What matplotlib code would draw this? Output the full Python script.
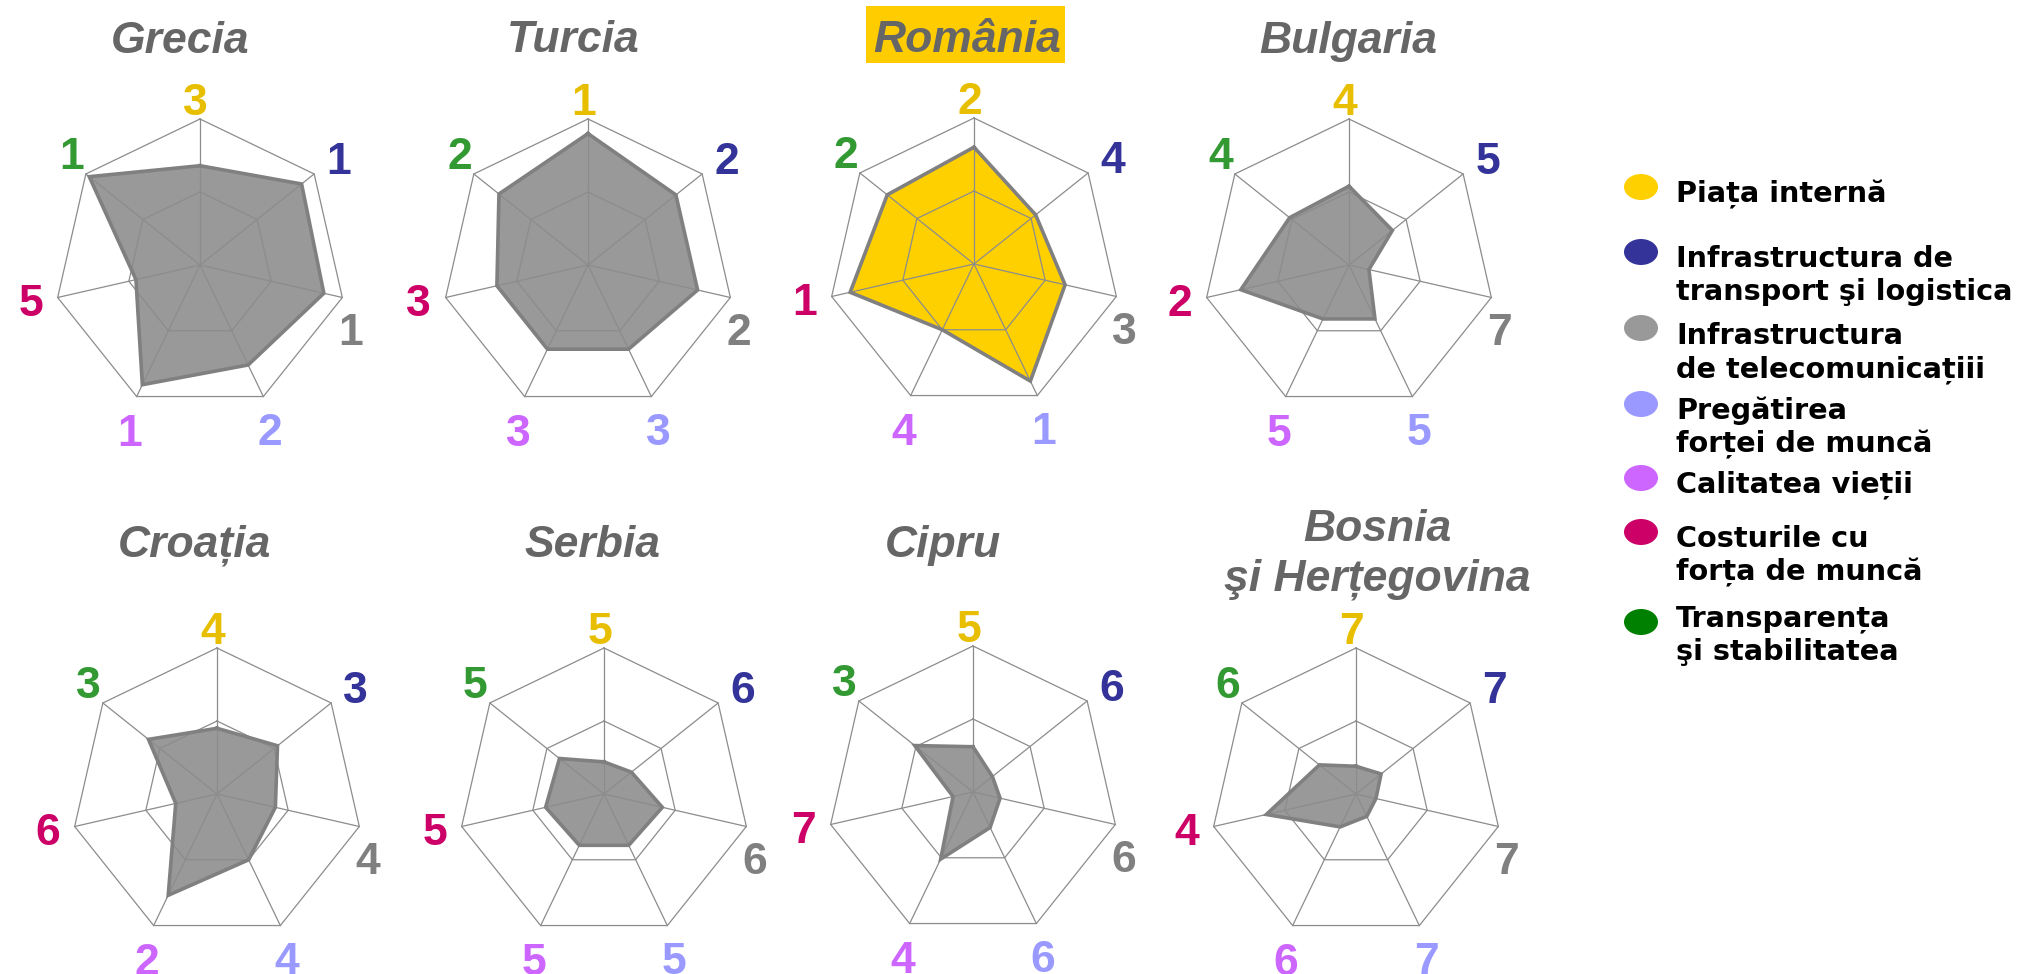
import numpy as np
import matplotlib
matplotlib.use("Agg")
from matplotlib import pyplot as plt
from matplotlib.patches import Rectangle, Ellipse

# categorii (ordinea axelor, in sensul acelor de ceasornic de sus)
categorii = ["Piața internă",
             "Infrastructura de\ntransport şi logistica",
             "Infrastructura\nde telecomunicațiii",
             "Pregătirea\nforței de muncă",
             "Calitatea vieții",
             "Costurile cu\nforța de muncă",
             "Transparența\nşi stabilitatea"]
culori_legenda = ["#FFD000", "#333399", "#999999", "#9999FF", "#CC66FF", "#CC0066", "#008000"]
culori_cifre = ["#E8BE00", "#333399", "#808080", "#9999FF", "#CC66FF", "#CC0066", "#339933"]

tari = ["Grecia", "Turcia", "România", "Bulgaria",
        "Croația", "Serbia", "Cipru", "Bosnia\nşi Herțegovina"]

# locul in clasament pe fiecare axa
locuri_grecia = [3, 1, 1, 2, 1, 5, 1]
locuri_turcia = [1, 2, 2, 3, 3, 3, 2]
locuri_romania = [2, 4, 3, 1, 4, 1, 2]
locuri_bulgaria = [4, 5, 7, 5, 5, 2, 4]
locuri_croatia = [4, 3, 4, 4, 2, 6, 3]
locuri_serbia = [5, 6, 6, 5, 5, 5, 5]
locuri_cipru = [5, 6, 6, 6, 4, 7, 3]
locuri_bosnia = [7, 7, 7, 7, 6, 4, 6]

# scorul relativ (0..1) al fiecarei axe
scor_grecia = [0.68, 0.89, 0.87, 0.76, 0.91, 0.45, 0.97]
scor_turcia = [0.90, 0.77, 0.77, 0.64, 0.64, 0.64, 0.78]
scor_romania = [0.80, 0.54, 0.64, 0.89, 0.50, 0.87, 0.76]
scor_bulgaria = [0.54, 0.38, 0.14, 0.41, 0.41, 0.76, 0.52]
scor_croatia = [0.45, 0.53, 0.41, 0.50, 0.77, 0.29, 0.60]
scor_serbia = [0.22, 0.24, 0.41, 0.39, 0.39, 0.41, 0.39]
scor_cipru = [0.31, 0.17, 0.19, 0.27, 0.51, 0.14, 0.51]
scor_bosnia = [0.19, 0.22, 0.14, 0.17, 0.25, 0.63, 0.32]

locuri = [locuri_grecia, locuri_turcia, locuri_romania, locuri_bulgaria,
          locuri_croatia, locuri_serbia, locuri_cipru, locuri_bosnia]
scoruri = [scor_grecia, scor_turcia, scor_romania, scor_bulgaria,
           scor_croatia, scor_serbia, scor_cipru, scor_bosnia]

# asezare (pixeli)
W, H = 2026, 974
R = 146
centre = [(200, 265), (588, 265), (974, 264), (1349, 265),
          (217, 794), (604, 794), (973, 792), (1356, 794)]
titlu_x = [180, 573, 967, 1348, 195, 592, 943, 1377]
titlu_y = [53, 52, 52, 53, 557, 557, 557, 541]
eticheta_poz = [(-0.03, 1.14), (0.95, 0.73), (1.03, -0.44), (0.48, -1.12),
                (-0.48, -1.13), (-1.16, -0.24), (-0.88, 0.77)]

fig = plt.figure(figsize=(W / 100, H / 100), dpi=100)
bg = fig.add_axes([0, 0, 1, 1])
bg.set_xlim(0, W)
bg.set_ylim(H, 0)
bg.axis("off")

fam = ["Liberation Sans", "DejaVu Sans"]

# caseta galbena pentru Romania
bg.add_patch(Rectangle((866, 6), 199, 57, facecolor="#FFCC00", edgecolor="none"))

for i, nume in enumerate(tari):
    for j, linie in enumerate(nume.split("\n")):
        bg.text(titlu_x[i], titlu_y[i] + j * 50, linie, ha="center", va="baseline",
                fontsize=32, fontweight="bold", fontstyle="italic", color="#666666",
                family=fam)

n = 7
unghiuri = 2 * np.pi * np.arange(n) / n
ux, uy = np.sin(unghiuri), np.cos(unghiuri)
half = 230

for i in range(len(tari)):
    cx, cy = centre[i]
    ax = fig.add_axes([(cx - half) / W, 1 - (cy + half) / H, 2 * half / W, 2 * half / H])
    ax.set_xlim(-half / R, half / R)
    ax.set_ylim(-half / R, half / R)
    ax.set_aspect("equal")
    ax.axis("off")

    s = np.array(scoruri[i])
    px = np.append(s * ux, s[0] * ux[0])
    py = np.append(s * uy, s[0] * uy[0])
    fata = "#FFD000" if tari[i] == "România" else "#999999"
    ax.fill(px, py, color=fata, zorder=1, lw=0)

    for inel in [0.5, 1.0]:
        ax.plot(np.append(inel * ux, inel * ux[0]), np.append(inel * uy, inel * uy[0]),
                color="#8C8C8C", lw=0.9, zorder=2)
    for k in range(n):
        ax.plot([0, ux[k]], [0, uy[k]], color="#8C8C8C", lw=0.9, zorder=2)

    ax.plot(px, py, color="#808080", lw=2.6, zorder=3, solid_joinstyle="miter")

    for k in range(n):
        dx, dy = eticheta_poz[k]
        ax.text(dx, dy, str(locuri[i][k]), ha="center", va="center_baseline",
                fontsize=32, fontweight="bold", color=culori_cifre[k], family=fam,
                clip_on=False)

# legenda
leg_y = [191, 256, 333, 408, 481, 536, 616]
mark_y = [187, 252, 328, 404, 478, 532, 622]
for k, text in enumerate(categorii):
    bg.add_patch(Ellipse((1641, mark_y[k]), 34, 26, facecolor=culori_legenda[k],
                         edgecolor="none"))
    for j, linie in enumerate(text.split("\n")):
        bg.text(1676, leg_y[k] + j * 33, linie, ha="left", va="center_baseline",
                fontsize=20.7, fontweight="bold", color="black", family="DejaVu Sans")

fig.savefig("out.png", dpi=100)
plt.close(fig)
